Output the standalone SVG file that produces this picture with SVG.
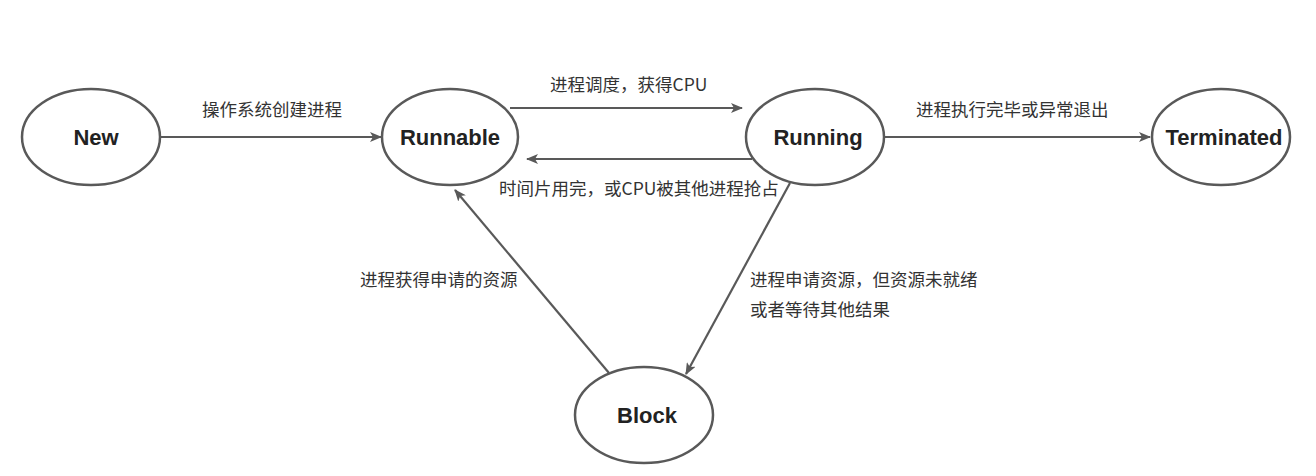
<svg xmlns="http://www.w3.org/2000/svg" width="1316" height="476" viewBox="0 0 1316 476">
<defs>
<marker id="ah" viewBox="0 0 12 10" refX="11" refY="5" markerWidth="12" markerHeight="10" markerUnits="userSpaceOnUse" orient="auto">
<path d="M0,0 L12,5 L0,10 L3,5 Z" fill="#595959"/>
</marker>
<style>
.node ellipse{fill:#fff;stroke:#595959;stroke-width:2.5}
.node text{font-family:"Liberation Sans","Open Sans",sans-serif;font-weight:bold;font-size:22px;fill:#222;text-anchor:middle;dominant-baseline:central}
.edge{stroke:#595959;stroke-width:2.2;fill:none;marker-end:url(#ah)}
.lbl{font-family:"Noto Sans CJK SC","Liberation Sans",sans-serif;font-size:17.5px;fill:#333;dominant-baseline:central}
</style>
</defs>
<rect width="1316" height="476" fill="#fff"/>
<g id="connectors">
<line class="edge" x1="161" y1="137" x2="381" y2="137"/>
<line class="edge" x1="510" y1="108" x2="742" y2="108"/>
<line class="edge" x1="752" y1="159" x2="527" y2="159"/>
<line class="edge" x1="885" y1="137" x2="1150" y2="137"/>
<line class="edge" x1="790" y1="183" x2="686" y2="374"/>
<line class="edge" x1="609" y1="373" x2="455" y2="190"/>
<text class="lbl" x="202" y="108">操作系统创建进程</text>
<text class="lbl" x="550" y="83">进程调度，获得CPU</text>
<text class="lbl" x="499" y="187">时间片用完，或CPU被其他进程抢占</text>
<text class="lbl" x="916" y="108">进程执行完毕或异常退出</text>
<text class="lbl" x="360" y="278">进程获得申请的资源</text>
<text class="lbl" x="750" y="278">进程申请资源，但资源未就绪</text>
<text class="lbl" x="750" y="308">或者等待其他结果</text>
</g>
<g id="new" class="node"><ellipse cx="91" cy="137" rx="69" ry="48"/><text x="96" y="137">New</text></g>
<g id="runnable" class="node"><ellipse cx="450" cy="137" rx="68" ry="48"/><text x="450" y="137">Runnable</text></g>
<g id="running" class="node"><ellipse cx="815" cy="137" rx="69" ry="48"/><text x="818" y="137">Running</text></g>
<g id="terminated" class="node"><ellipse cx="1221" cy="137" rx="69" ry="48"/><text x="1224" y="137">Terminated</text></g>
<g id="block" class="node"><ellipse cx="644" cy="415" rx="69" ry="48"/><text x="647" y="415">Block</text></g>
</svg>
